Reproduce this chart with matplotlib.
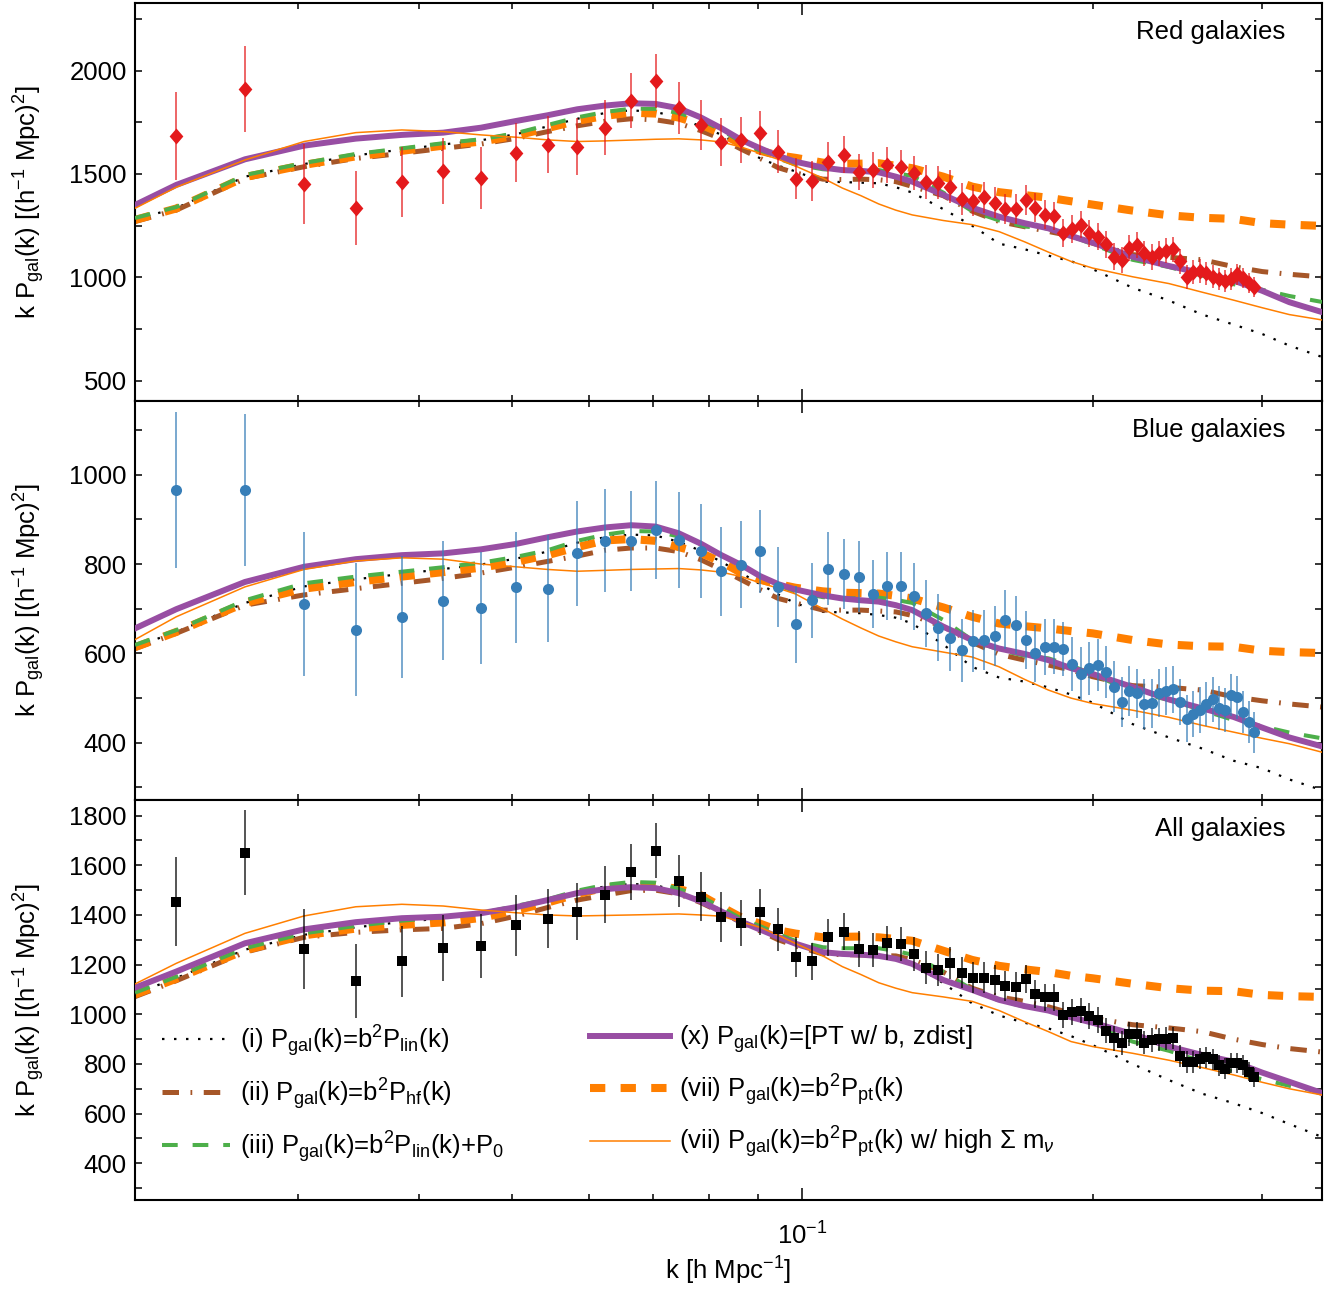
import numpy as np
import matplotlib
matplotlib.use('Agg')
import matplotlib.pyplot as plt
from matplotlib.ticker import FixedLocator, NullFormatter, MultipleLocator, LogFormatterSciNotation

plt.rcParams['font.family'] = ['Liberation Sans', 'DejaVu Sans']
plt.rcParams['mathtext.fontset'] = 'custom'
plt.rcParams['mathtext.rm'] = 'Liberation Sans'
plt.rcParams['mathtext.it'] = 'Liberation Sans:italic'
plt.rcParams['mathtext.bf'] = 'Liberation Sans:bold'
plt.rcParams['mathtext.sf'] = 'Liberation Sans'
FS = 18.5

# ---------------- data points ----------------
k_data = [0.0224, 0.0264, 0.0304, 0.0344, 0.0384, 0.0424, 0.0464, 0.0504, 0.0544, 0.0584,
          0.0624, 0.0664, 0.0704, 0.0744, 0.0784, 0.0824, 0.0864, 0.0904, 0.0944, 0.0984,
          0.1024, 0.1064, 0.1104, 0.1144, 0.1184, 0.1224, 0.1264, 0.1304, 0.1344, 0.1384,
          0.1424, 0.1464, 0.1504, 0.1544, 0.1584, 0.1624, 0.1664, 0.1704, 0.1744, 0.1784,
          0.1824, 0.1864, 0.1904, 0.1944, 0.1984, 0.2024, 0.2064, 0.2104, 0.2144, 0.2184,
          0.2224, 0.2264, 0.2304, 0.2344, 0.2384, 0.2424, 0.2464, 0.2504, 0.2544, 0.2584,
          0.2624, 0.2664, 0.2704, 0.2744, 0.2784, 0.2824, 0.2864, 0.2904, 0.2944]

red_val = [1684, 1911, 1452, 1336, 1461, 1515, 1481, 1602, 1641, 1632,
           1724, 1855, 1949, 1818, 1736, 1654, 1665, 1697, 1608, 1477,
           1465, 1558, 1594, 1511, 1520, 1542, 1532, 1503, 1461, 1458,
           1439, 1381, 1371, 1387, 1361, 1332, 1329, 1374, 1336, 1303,
           1297, 1213, 1235, 1255, 1213, 1197, 1161, 1100, 1084, 1141,
           1155, 1116, 1100, 1116, 1129, 1136, 1078, 1003, 1027, 1032,
           1020, 1003, 991, 981, 991, 1016, 997, 974, 955]
red_err = [213, 207, 194, 179, 169, 161, 151, 143, 138, 139,
           133, 132, 130, 126, 122, 116, 112, 106, 103, 99,
           96, 95, 90, 88, 87, 87, 84, 82, 81, 80,
           78, 77, 76, 75, 74, 73, 72, 71, 70, 69,
           68, 68, 67, 66, 66, 65, 65, 64, 64, 63,
           63, 62, 62, 61, 61, 60, 60, 59, 58, 57,
           56, 55, 54, 53, 52, 51, 50, 49, 48]

blue_val = [966, 966, 710, 653, 682, 718, 702, 748, 745, 824,
            852, 852, 876, 854, 829, 784, 799, 829, 749, 665,
            719, 790, 778, 772, 733, 751, 751, 728, 690, 658,
            634, 607, 628, 630, 640, 675, 663, 630, 600, 614,
            615, 610, 576, 555, 567, 574, 558, 525, 491, 515,
            511, 487, 488, 512, 516, 520, 491, 454, 464, 473,
            487, 497, 478, 473, 507, 502, 469, 447, 424]
blue_err = [175, 170, 161, 149, 137, 133, 126, 124, 119, 118,
            115, 112, 110, 108, 105, 100, 97, 93, 90, 86,
            84, 81, 79, 79, 77, 77, 77, 75, 75, 74,
            74, 70, 69, 68, 67, 66, 65, 64, 63, 63,
            62, 61, 60, 60, 59, 58, 58, 57, 56, 56,
            55, 55, 54, 54, 53, 53, 52, 52, 51, 51,
            50, 50, 49, 49, 48, 48, 47, 47, 46]

all_val = [1454, 1651, 1262, 1133, 1213, 1267, 1274, 1358, 1385, 1413,
           1482, 1573, 1658, 1536, 1474, 1391, 1369, 1412, 1342, 1231,
           1214, 1310, 1332, 1264, 1259, 1286, 1283, 1243, 1187, 1178,
           1208, 1168, 1148, 1148, 1137, 1114, 1111, 1141, 1082, 1068,
           1068, 997, 1009, 1015, 993, 977, 934, 903, 883, 919,
           921, 886, 897, 899, 902, 905, 832, 809, 809, 821,
           827, 819, 795, 781, 803, 805, 795, 769, 746]
all_err = [178, 172, 162, 150, 142, 133, 128, 123, 119, 114,
           114, 111, 111, 104, 100, 100, 93, 94, 87, 80,
           75, 74, 75, 72, 70, 69, 68, 67, 66, 65,
           64, 63, 62, 61, 60, 59, 58, 57, 56, 55,
           55, 54, 53, 52, 52, 51, 50, 50, 49, 48,
           48, 47, 47, 46, 46, 45, 45, 44, 44, 43,
           43, 42, 42, 41, 41, 40, 40, 39, 39]

# ---------------- model curves ----------------
k_model = [0.0203, 0.0224, 0.0264, 0.0304, 0.0344, 0.0384, 0.0424, 0.0464, 0.0504, 0.0544,
           0.0584, 0.0624, 0.0664, 0.0704, 0.0744, 0.0784, 0.0824, 0.0864, 0.0904, 0.0944,
           0.0984, 0.105, 0.110, 0.115, 0.120, 0.125, 0.130, 0.140, 0.150, 0.160,
           0.170, 0.180, 0.190, 0.200, 0.220, 0.240, 0.260, 0.280, 0.300, 0.320, 0.346]

# Red galaxies
red_lin = [1280, 1335, 1487, 1548, 1590, 1618, 1643, 1663, 1692, 1730,
           1767, 1795, 1808, 1800, 1774, 1730, 1690, 1635, 1575, 1540,
           1512, 1463, 1461, 1458, 1455, 1436, 1410, 1330, 1250, 1163,
           1136, 1105, 1078, 1040, 950, 888, 820, 772, 726, 670, 615]
red_hf = [1270, 1325, 1478, 1535, 1575, 1600, 1624, 1645, 1672, 1705,
          1733, 1755, 1767, 1762, 1745, 1710, 1670, 1620, 1575, 1530,
          1505, 1475, 1473, 1475, 1472, 1463, 1440, 1395, 1320, 1270,
          1245, 1222, 1200, 1165, 1110, 1097, 1085, 1052, 1028, 1015, 1002]
red_p0 = [1287, 1340, 1495, 1553, 1597, 1624, 1649, 1668, 1697, 1737,
          1774, 1800, 1816, 1815, 1795, 1762, 1712, 1655, 1610, 1575,
          1545, 1523, 1516, 1516, 1519, 1505, 1490, 1410, 1320, 1275,
          1246, 1236, 1200, 1160, 1085, 1050, 1008, 967, 940, 910, 881]
red_ptb = [1350, 1447, 1571, 1637, 1671, 1689, 1700, 1724, 1756, 1784,
           1813, 1831, 1842, 1839, 1818, 1774, 1721, 1665, 1624, 1587,
           1559, 1531, 1519, 1515, 1508, 1487, 1463, 1399, 1337, 1293,
           1262, 1237, 1200, 1168, 1100, 1055, 1020, 985, 935, 880, 832]
red_pt = [1278, 1333, 1485, 1544, 1585, 1612, 1637, 1657, 1685, 1722,
          1757, 1781, 1797, 1792, 1773, 1740, 1695, 1645, 1612, 1590,
          1578, 1555, 1550, 1550, 1552, 1540, 1528, 1487, 1439, 1412,
          1398, 1385, 1368, 1352, 1323, 1300, 1288, 1283, 1262, 1255, 1249]
red_mnu = [1334, 1436, 1568, 1657, 1700, 1713, 1705, 1689, 1678, 1665,
           1657, 1660, 1664, 1668, 1670, 1665, 1655, 1630, 1600, 1571,
           1538, 1480, 1432, 1395, 1355, 1325, 1302, 1275, 1255, 1221,
           1172, 1122, 1077, 1045, 1003, 970, 928, 890, 853, 820, 794]

# Blue galaxies
blue_lin = [615, 648, 713, 750, 766, 778, 789, 799, 812, 828,
            848, 860, 866, 864, 850, 830, 805, 780, 755, 732,
            712, 693, 692, 690, 686, 680, 667, 620, 570, 546,
            537, 524, 508, 490, 442, 412, 387, 360, 343, 318, 294]
blue_hf = [611, 645, 708, 731, 745, 757, 768, 780, 793, 806,
           818, 831, 836, 836, 828, 810, 788, 765, 743, 723,
           713, 697, 697, 697, 695, 693, 685, 660, 625, 598,
           585, 574, 563, 548, 528, 524, 518, 503, 494, 487, 480]
blue_p0 = [619, 652, 719, 757, 772, 783, 793, 803, 816, 831,
           852, 866, 874, 873, 862, 845, 822, 795, 774, 753,
           738, 726, 723, 724, 725, 720, 713, 675, 630, 608,
           595, 589, 573, 554, 514, 496, 473, 451, 437, 423, 410]
blue_ptb = [656, 699, 760, 794, 811, 820, 824, 833, 845, 860,
            873, 882, 887, 884, 869, 846, 820, 798, 773, 755,
            743, 730, 723, 719, 716, 708, 697, 660, 630, 611,
            599, 585, 567, 554, 525, 497, 477, 458, 434, 412, 392]
blue_pt = [614, 648, 713, 745, 760, 772, 782, 792, 805, 820,
           838, 853, 856, 852, 838, 825, 805, 780, 765, 755,
           747, 739, 736, 735, 734, 729, 723, 703, 682, 667,
           661, 656, 650, 645, 630, 620, 616, 615, 606, 603, 601]
blue_mnu = [631, 682, 749, 788, 807, 814, 811, 800, 794, 788,
            784, 786, 788, 789, 790, 787, 782, 772, 758, 746,
            733, 700, 677, 657, 639, 626, 615, 603, 592, 570,
            542, 518, 500, 488, 473, 457, 439, 424, 410, 398, 379]

# All galaxies
all_lin = [1082, 1146, 1260, 1320, 1350, 1372, 1386, 1402, 1430, 1458,
           1492, 1515, 1525, 1520, 1495, 1462, 1420, 1378, 1345, 1310,
           1280, 1248, 1246, 1243, 1238, 1225, 1205, 1125, 1044, 995,
           966, 943, 912, 876, 800, 735, 680, 642, 602, 558, 506]
all_hf = [1071, 1135, 1250, 1310, 1330, 1340, 1346, 1365, 1395, 1430,
          1460, 1480, 1498, 1500, 1485, 1450, 1410, 1370, 1335, 1300,
          1275, 1243, 1240, 1239, 1237, 1235, 1220, 1170, 1105, 1070,
          1052, 1030, 1004, 985, 958, 945, 930, 900, 878, 862, 848]
all_p0 = [1087, 1151, 1266, 1326, 1356, 1377, 1391, 1407, 1436, 1463,
          1498, 1521, 1533, 1530, 1505, 1475, 1430, 1385, 1355, 1323,
          1295, 1270, 1266, 1266, 1266, 1255, 1240, 1170, 1100, 1055,
          1031, 1020, 992, 965, 890, 853, 809, 767, 738, 712, 687]
all_ptb = [1107, 1172, 1286, 1342, 1371, 1387, 1393, 1407, 1431, 1460,
           1488, 1504, 1512, 1508, 1488, 1455, 1414, 1373, 1341, 1311,
           1284, 1250, 1243, 1240, 1235, 1223, 1203, 1138, 1098, 1058,
           1033, 1015, 988, 966, 921, 870, 836, 809, 765, 728, 683]
all_pt = [1080, 1143, 1258, 1318, 1345, 1360, 1370, 1388, 1418, 1450,
          1484, 1510, 1520, 1518, 1505, 1480, 1433, 1390, 1365, 1338,
          1325, 1310, 1312, 1313, 1310, 1303, 1296, 1256, 1219, 1195,
          1181, 1170, 1155, 1145, 1123, 1105, 1095, 1093, 1078, 1073, 1070]
all_mnu = [1122, 1205, 1326, 1396, 1433, 1443, 1436, 1420, 1409, 1400,
           1396, 1398, 1400, 1402, 1404, 1400, 1395, 1372, 1350, 1318,
           1285, 1235, 1192, 1160, 1127, 1105, 1087, 1070, 1052, 1015,
           970, 930, 890, 870, 843, 815, 785, 756, 726, 700, 675]

panel_names = ['Red galaxies', 'Blue galaxies', 'All galaxies']
legend_labels = [r'(i) P$_{\mathrm{gal}}$(k)=b$^2$P$_{\mathrm{lin}}$(k)',
                 r'(ii) P$_{\mathrm{gal}}$(k)=b$^2$P$_{\mathrm{hf}}$(k)',
                 r'(iii) P$_{\mathrm{gal}}$(k)=b$^2$P$_{\mathrm{lin}}$(k)+P$_0$',
                 r'(x) P$_{\mathrm{gal}}$(k)=[PT w/ b, zdist]',
                 r'(vii) P$_{\mathrm{gal}}$(k)=b$^2$P$_{\mathrm{pt}}$(k)',
                 r'(vii) P$_{\mathrm{gal}}$(k)=b$^2$P$_{\mathrm{pt}}$(k) w/ high $\Sigma$ m$_{\nu}$']

C_RED = '#e41a1c'
C_BLUE = '#377eb8'
C_GREEN = '#4daf4a'
C_PURPLE = '#984ea3'
C_ORANGE = '#ff7f00'
C_BROWN = '#a65628'

diamond = [(0, 1), (0.86, 0), (0, -1), (-0.86, 0), (0, 1)]

panels = [
    dict(val=red_val, err=red_err, color=C_RED, marker=diamond, ms=11.5,
         curves=[red_lin, red_hf, red_p0, red_ptb, red_pt, red_mnu],
         ylim=(402, 2327), major=500, minor=250),
    dict(val=blue_val, err=blue_err, color=C_BLUE, marker='o', ms=8,
         curves=[blue_lin, blue_hf, blue_p0, blue_ptb, blue_pt, blue_mnu],
         ylim=(272, 1165), major=200, minor=100),
    dict(val=all_val, err=all_err, color='black', marker='s', ms=6.8,
         curves=[all_lin, all_hf, all_p0, all_ptb, all_pt, all_mnu],
         ylim=(252, 1863), major=200, minor=100),
]

curve_styles = [
    dict(color='black', lw=1.6, ls=(0, (1.1, 4.3)), zorder=2),
    dict(color=C_BROWN, lw=3.6, ls=(0, (3.3, 2.3, 0.35, 2.3)), zorder=2.2),
    dict(color=C_GREEN, lw=2.9, ls=(0, (3.9, 3.7)), zorder=2.6),
    dict(color=C_PURPLE, lw=4.3, ls='-', zorder=2.8),
    dict(color=C_ORANGE, lw=5.8, ls=(0, (1.9, 1.9)), zorder=2.4),
    dict(color=C_ORANGE, lw=1.1, ls='-', zorder=2.9),
]

W, H = 1328, 1290
fig = plt.figure(figsize=(W / 100, H / 100), dpi=100)
L = 135 / W
AW = 1187 / W
bounds = [(3, 401), (401, 800), (800, 1200)]
axes = []
for (t, b) in bounds:
    axes.append(fig.add_axes([L, 1 - b / H, AW, (b - t) / H]))

handles = []
for i, (ax, p) in enumerate(zip(axes, panels)):
    ax.set_xscale('log')
    hs = []
    for cv, st in zip(p['curves'], curve_styles):
        ln, = ax.plot(k_model, cv, color=st['color'], lw=st['lw'], ls=st['ls'],
                      zorder=st['zorder'], dash_capstyle='butt')
        hs.append(ln)
    if i == 2:
        handles = hs
    ax.errorbar(k_data, p['val'], yerr=p['err'], fmt='none', ecolor=p['color'],
                elinewidth=1.1, capsize=0, zorder=4, alpha=0.85)
    ax.plot(k_data, p['val'], ls='none', marker=p['marker'], ms=p['ms'],
            color=p['color'], mec=p['color'], mew=0, zorder=5)
    ax.set_xlim(0.0203, 0.346)
    ax.set_ylim(*p['ylim'])
    ax.yaxis.set_major_locator(MultipleLocator(p['major']))
    ax.yaxis.set_minor_locator(MultipleLocator(p['minor']))
    ax.xaxis.set_major_locator(FixedLocator([0.1]))
    ax.xaxis.set_minor_locator(FixedLocator([0.03, 0.04, 0.05, 0.06, 0.07, 0.08, 0.09, 0.2, 0.3]))
    ax.xaxis.set_minor_formatter(NullFormatter())
    if i < 2:
        ax.xaxis.set_major_formatter(NullFormatter())
    else:
        ax.xaxis.set_major_formatter(LogFormatterSciNotation())
    ax.tick_params(which='both', direction='in', top=True, right=True,
                   labelsize=FS, width=1.1, pad=6)
    ax.tick_params(axis='y', which='both', length=5)
    ax.tick_params(axis='x', which='major', length=8.6, pad=16)
    ax.tick_params(axis='x', which='minor', length=4.3)
    for s in ax.spines.values():
        s.set_linewidth(1.5)
    ax.set_ylabel(r'k P$_{\mathrm{gal}}$(k) [(h$^{-1}$ Mpc)$^2$]', fontsize=FS)
    ax.yaxis.set_label_coords(-0.074, 0.5)
    ax.text(0.969, 0.928, panel_names[i], transform=ax.transAxes, ha='right',
            va='center', fontsize=FS)

axb = axes[2]
axb.set_xlabel(r'k [h Mpc$^{-1}$]', fontsize=FS)
axb.xaxis.set_label_coords(0.5, -0.137)

leg1 = axb.legend(handles[:3], legend_labels[:3], loc='upper left',
                  bbox_to_anchor=(162 / W, 1 - 1023 / H), bbox_transform=fig.transFigure,
                  frameon=False, fontsize=FS, borderpad=0, borderaxespad=0,
                  handlelength=2.65, handletextpad=0.39, labelspacing=0.66)
axb.add_artist(leg1)
leg2 = axb.legend(handles[3:], legend_labels[3:], loc='upper left',
                  bbox_to_anchor=(590 / W, 1 - 1023 / H), bbox_transform=fig.transFigure,
                  frameon=False, fontsize=FS, borderpad=0, borderaxespad=0,
                  handlelength=3.1, handletextpad=0.35, labelspacing=0.66)

fig.savefig('out.png', dpi=100)
